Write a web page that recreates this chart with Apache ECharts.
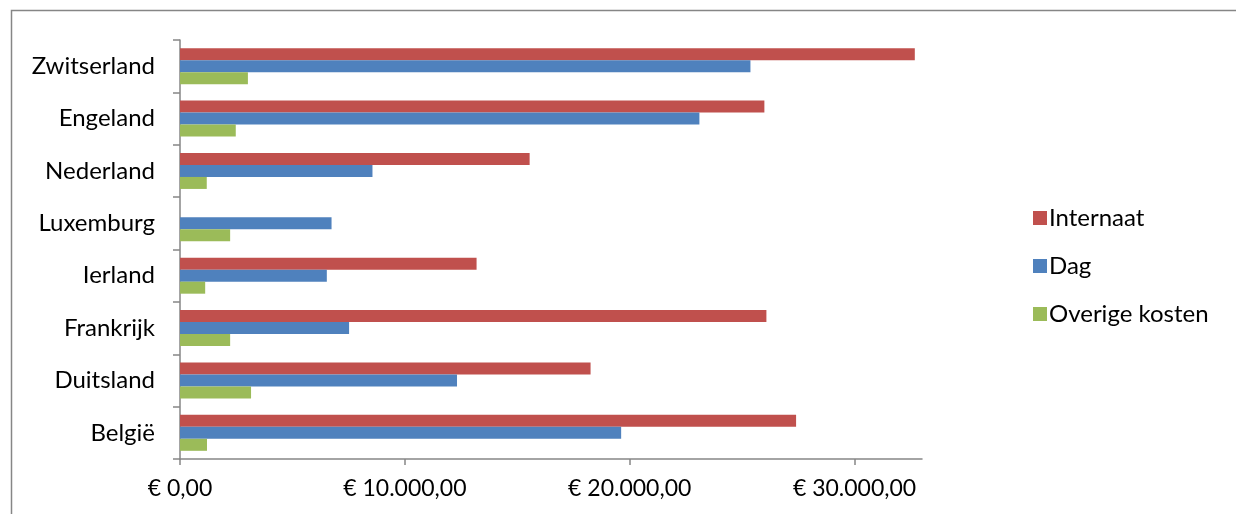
<!DOCTYPE html>
<html>
<head>
<meta charset="utf-8">
<script src="https://cdn.jsdelivr.net/npm/echarts@6/dist/echarts.min.js"></script>
<style>
    html, body { margin: 0; padding: 0; background: #fff; }
    #chart { width: 1236px; height: 514px; }
</style>
</head>
<body>
<div id="chart"></div>
<script>
// landen, van onder naar boven
var landen = ["België", "Duitsland", "Frankrijk", "Ierland", "Luxemburg", "Nederland", "Engeland", "Zwitserland"];
var internaat = [27400, 18260, 26080, 13190, 0, 15550, 25990, 32680];
var dag = [19620, 12320, 7520, 6530, 6740, 8560, 23100, 25370];
var overige = [1200, 3160, 2230, 1120, 2230, 1190, 2480, 3020];
var xTicks = [0, 10000, 20000, 30000];

function euro(v) {
    var s = Math.round(v).toString().replace(/\B(?=(\d{3})+(?!\d))/g, ".");
    return "€ " + s + ",00";
}

var mychart = echarts.init(document.getElementById("chart"));
var font = "Lato, 'Open Sans', sans-serif";

var option = {
    animation: false,
    textStyle: { fontFamily: font },
    graphic: [
        {
            type: "rect",
            shape: { x: 11.5, y: 10.5, width: 1240, height: 520 },
            style: { fill: "none", stroke: "#868686", lineWidth: 1.5 },
        },
    ],
    grid: { left: 180, right: 314, top: 40, bottom: 55 },
    legend: {
        orient: "vertical",
        left: 1028,
        top: 201,
        itemWidth: 14,
        itemHeight: 14,
        itemGap: 24,
        icon: "rect",
        data: ["Internaat", "Dag", "Overige kosten"],
        textStyle: { fontSize: 24, color: "#000", fontFamily: font, padding: [0, 0, 0, -3] },
    },
    xAxis: {
        type: "value",
        min: 0,
        max: 33000,
        interval: 10000,
        splitLine: { show: false },
        axisLine: { show: true, lineStyle: { color: "#868686", width: 1.5 } },
        axisTick: { show: true, length: 6, customValues: xTicks, lineStyle: { color: "#868686", width: 1.5 } },
        axisLabel: {
            customValues: xTicks,
            formatter: euro,
            fontSize: 23,
            color: "#000",
            margin: 18,
            fontFamily: font,
        },
    },
    yAxis: {
        type: "category",
        data: landen,
        axisLine: { show: true, lineStyle: { color: "#868686", width: 1.5 } },
        axisTick: { show: true, length: 7, lineStyle: { color: "#868686", width: 1.5 } },
        axisLabel: { fontSize: 24, color: "#000", margin: 25, fontFamily: font, padding: [0, 0, 4, 0] },
    },
    series: [
        {
            name: "Internaat",
            type: "bar",
            data: internaat,
            barWidth: 12,
            barGap: "0%",
            itemStyle: { color: "#C0504D" },
        },
        {
            name: "Dag",
            type: "bar",
            data: dag,
            barWidth: 12,
            barGap: "0%",
            itemStyle: { color: "#4F81BD" },
        },
        {
            name: "Overige kosten",
            type: "bar",
            data: overige,
            barWidth: 12,
            barGap: "0%",
            itemStyle: { color: "#9BBB59" },
        },
    ],
};

mychart.setOption(option);
</script>
</body>
</html>
